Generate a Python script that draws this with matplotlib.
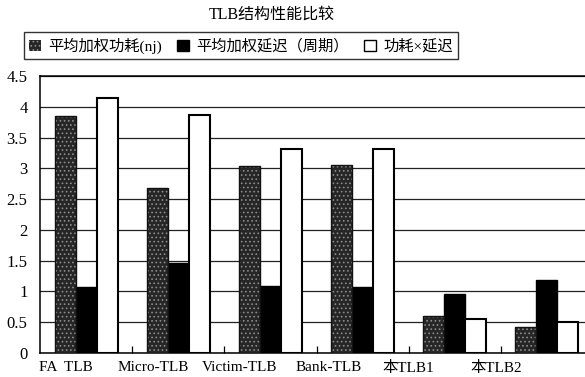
import matplotlib
matplotlib.use("Agg")
import matplotlib.pyplot as plt
from matplotlib.patches import Patch
import numpy as np

plt.rcParams['font.family'] = ['Liberation Serif', 'Noto Sans CJK SC']
plt.rcParams['hatch.linewidth'] = 0.7

categories = ["FA  TLB", "Micro-TLB", "Victim-TLB", "Bank-TLB", "本TLB1", "本TLB2"]
power = [3.85, 2.68, 3.04, 3.06, 0.60, 0.43]
delay = [1.08, 1.46, 1.09, 1.08, 0.96, 1.19]
product = [4.15, 3.87, 3.31, 3.31, 0.56, 0.51]
series_names = ["平均加权功耗(nj)", "平均加权延迟（周期）", "功耗×延迟"]
yticks = [0, 0.5, 1, 1.5, 2, 2.5, 3, 3.5, 4, 4.5]
ytick_labels = ["0", "0.5", "1", "1.5", "2", "2.5", "3", "3.5", "4", "4.5"]

# label anchor positions (in category units) for the x-axis text
label_pos = [-0.22, 0.73, 1.66, 2.63, 3.49, 4.45]

W, H = 585, 377
fig = plt.figure(figsize=(W / 100, H / 100), dpi=100)
ax = fig.add_axes([40 / W, 24 / H, 553 / W, 277 / H])

x = np.arange(len(categories))
bw = 0.228

# stippled dark bars: hatch layer then outline
ax.bar(x - bw, power, bw, color="#262626", edgecolor="#8c8c8c", hatch="....",
       linewidth=0, zorder=3)
ax.bar(x - bw, power, bw, fill=False, edgecolor="#111111", linewidth=1.0, zorder=4)
ax.bar(x, delay, bw, color="black", edgecolor="black", linewidth=1.0, zorder=3)
ax.bar(x + bw, product, bw, color="white", edgecolor="black", linewidth=1.5, zorder=3)

ax.set_xlim(-0.5, 5.5)
ax.set_ylim(0, 4.5)
ax.set_yticks(yticks)
ax.set_yticklabels(ytick_labels, fontsize=12)
ax.yaxis.grid(True, color="#222222", linewidth=0.9, zorder=0)
ax.set_axisbelow(True)
ax.tick_params(axis="y", length=0, pad=9)

ax.set_xticks(label_pos)
ax.set_xticklabels(categories, fontsize=11)
ax.set_xticks(x[:-1] + 0.5, minor=True)
ax.tick_params(axis="x", which="major", length=0, pad=6)
ax.tick_params(axis="x", which="minor", direction="in", length=5, width=0.9)

for s in ax.spines.values():
    s.set_linewidth(1.1)
    s.set_color("black")

fig.text(272 / W, 1 - 15 / H, "TLB结构性能比较", ha="center", va="center",
         fontsize=11.5, fontweight="medium")

handles = [
    Patch(facecolor="#262626", edgecolor="#8c8c8c", hatch="....", linewidth=0),
    Patch(facecolor="black", edgecolor="black"),
    Patch(facecolor="white", edgecolor="black", linewidth=1.0),
]
fig.legend(handles, series_names, loc="upper left",
           bbox_to_anchor=(24 / W, 1 - 32 / H), ncol=3, frameon=True,
           fancybox=False, edgecolor="black", fontsize=11,
           handlelength=0.75, handleheight=0.75, handletextpad=0.5,
           columnspacing=1.0, borderpad=0.35, borderaxespad=0)

fig.savefig("out.png", dpi=100)
